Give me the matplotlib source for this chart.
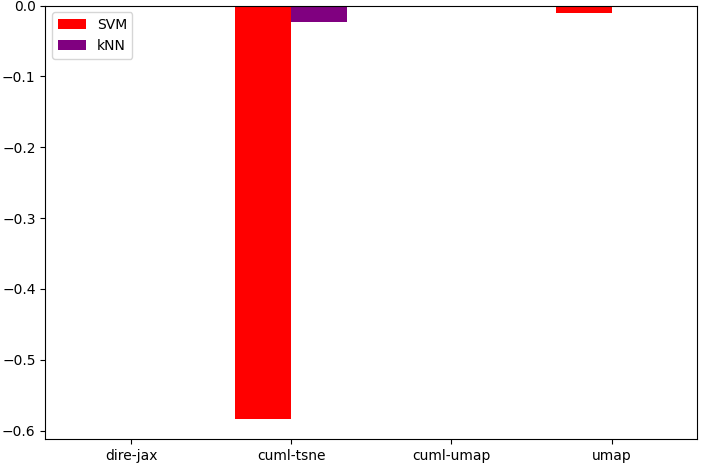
import matplotlib
matplotlib.use("Agg")
import matplotlib.pyplot as plt
import numpy as np

categories = ["dire-jax", "cuml-tsne", "cuml-umap", "umap"]
svm_values = [0.0, -0.583, 0.0, -0.0106]
knn_values = [0.0, -0.0233, 0.0, 0.0]

fig, ax = plt.subplots(figsize=(7.03, 4.66), dpi=100)
fig.subplots_adjust(left=45.3/703, right=697.3/703, top=1-5.5/466, bottom=1-439.3/466)

x = np.arange(len(categories))
w = 0.35
ax.bar(x - w/2, svm_values, w, color="red", label="SVM")
ax.bar(x + w/2, knn_values, w, color="purple", label="kNN")
ax.set_xticks(x)
ax.set_xticklabels(categories)
ax.legend(loc="upper left")

fig.savefig("out.png", dpi=100)
